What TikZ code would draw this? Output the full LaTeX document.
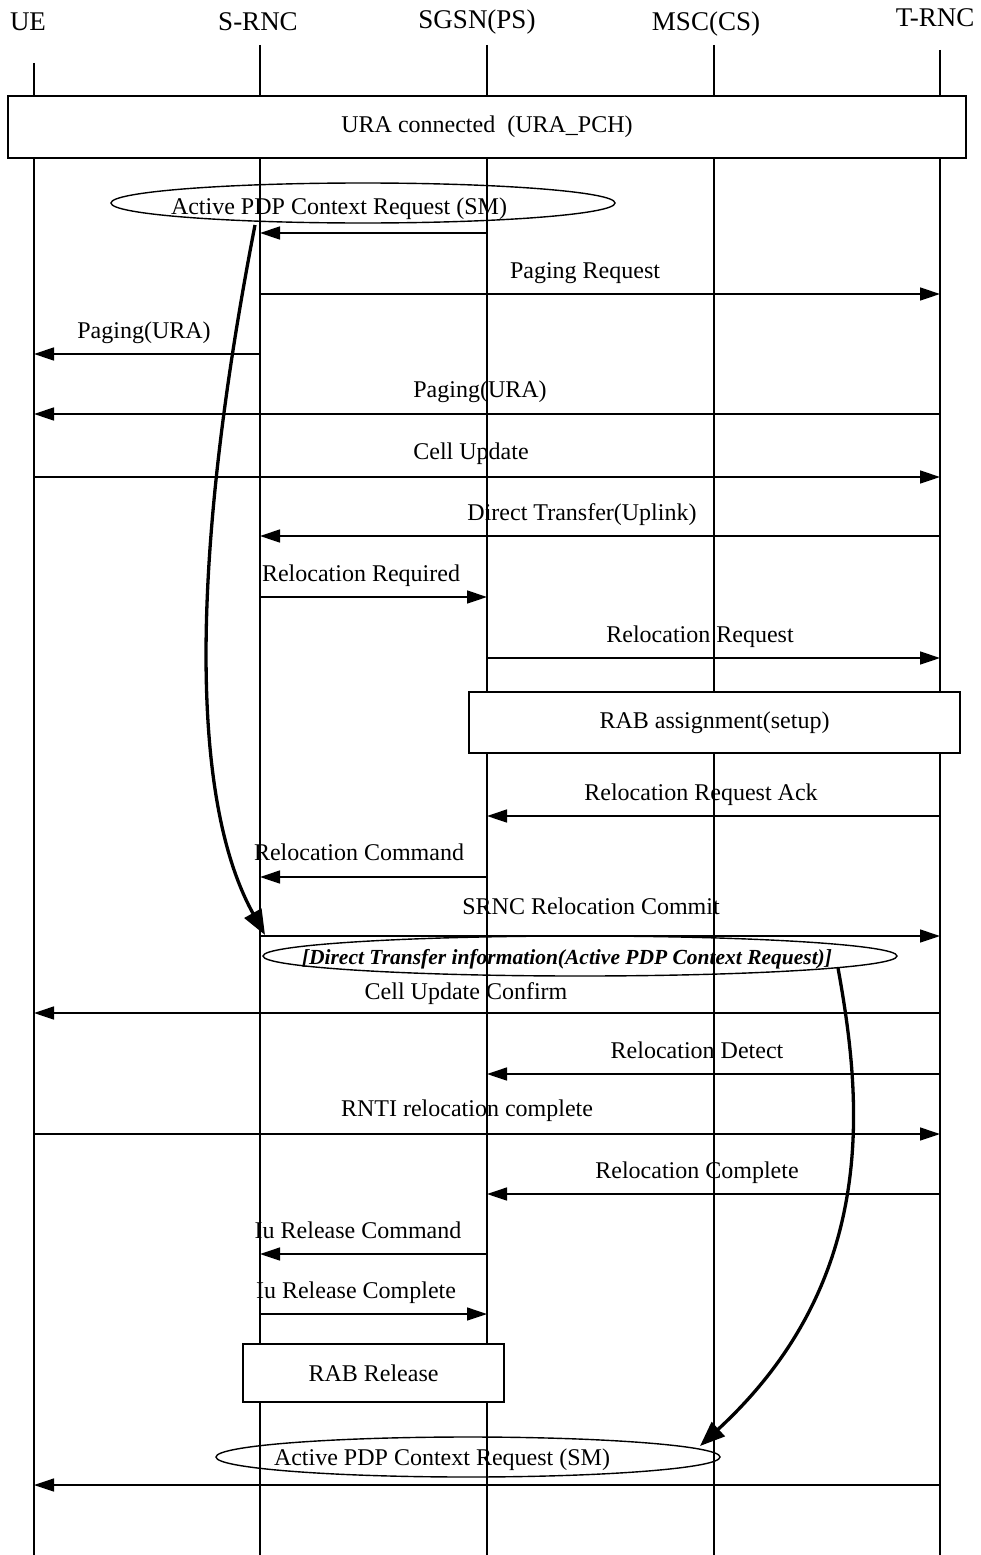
\documentclass[tikz,border=0pt]{standalone}
\usepackage{fontspec}
\setmainfont{Liberation Serif}
\usepackage{tikz}
\usetikzlibrary{arrows.meta,shapes.geometric,positioning}
\tikzset{lifeLine/.style={line width=1.2pt,color=black}}
\tikzset{msgLine/.style={line width=1.4pt,-{Triangle[length=20pt,width=13pt]}}}
\tikzset{msgText/.style={font=\fontsize{24}{28}\selectfont,anchor=base,inner sep=0pt}}
\tikzset{headText/.style={font=\fontsize{27}{32}\selectfont,anchor=base,inner sep=0pt}}
\tikzset{stateBox/.style={draw,line width=1.4pt,fill=white,inner sep=0pt,font=\fontsize{24}{28}\selectfont}}
\tikzset{ctxEllipse/.style={draw,ellipse,line width=1.4pt,inner sep=0pt}}
\tikzset{jumpArrow/.style={line width=3.3pt,-{Triangle[length=25pt,width=19pt]}}}
\newcommand{\xUE}{34}
\newcommand{\xSRNC}{260}
\newcommand{\xSGSN}{487}
\newcommand{\xMSC}{714}
\newcommand{\xTRNC}{940}

\begin{document}
\begin{tikzpicture}[x=1pt,y=-1pt]
		\useasboundingbox (0,0) rectangle (980,1555);
		% entities
		\node[headText] (ue)   at (28,31)  {UE};
		\node[headText] (srnc) at (258,31) {S-RNC};
		\node[headText] (sgsn) at (477,29) {SGSN(PS)};
		\node[headText] (msc)  at (706,31) {MSC(CS)};
		\node[headText] (trnc) at (935,27) {T-RNC};
		% life lines
		\foreach \n/\x/\t in {ue/\xUE/63, srnc/\xSRNC/45, sgsn/\xSGSN/45, msc/\xMSC/45, trnc/\xTRNC/50}{
			\coordinate (\n Top) at (\x,\t);
			\coordinate (\n Bot) at (\x,1555);
			\draw[lifeLine] (\n Top) -- (\n Bot);
		}
		% state boxes
		\node[stateBox, minimum width=958pt, minimum height=62pt] (ura) at (487,127) {URA connected~~(URA\_PCH)};
		\node[stateBox, minimum width=491pt, minimum height=61pt] (rabSetup) at (714.5,722.5) {RAB assignment(setup)};
		\node[stateBox, minimum width=261pt, minimum height=58pt] (rabRel) at (373.5,1373) {RAB Release};
		% context ellipses
		\node[ctxEllipse, minimum width=504pt, minimum height=40pt] (ctxA) at (363,203) {};
		\node[msgText] (ctxAText) at (339,214) {Active PDP Context Request (SM)};
		\node[ctxEllipse, minimum width=634pt, minimum height=40pt] (ctxB) at (580,956) {};
		\node[msgText, font=\fontsize{21.5}{25}\selectfont\bfseries\itshape] (ctxBText) at (567,964) {[Direct Transfer information(Active PDP Context Request)]};
		\node[ctxEllipse, minimum width=504pt, minimum height=40pt] (ctxC) at (468,1457) {};
		\node[msgText] (ctxCText) at (442,1465) {Active PDP Context Request (SM)};
		% messages without label
		\coordinate (s0) at (\xSGSN,233);
		\coordinate (e0) at (\xSRNC,233);
		\draw[msgLine] (s0) -- (e0);
		\coordinate (s18) at (\xTRNC,1485);
		\coordinate (e18) at (\xUE,1485);
		\draw[msgLine] (s18) -- (e18);
		% messages
		\foreach \i/\f/\t/\yy/\lx/\ly/\lbl in {
			2/\xSRNC/\xTRNC/294/585/278/{Paging Request},
			3/\xSRNC/\xUE/354/144/338/{Paging(URA)},
			4/\xTRNC/\xUE/414/480/397/{Paging(URA)},
			5/\xUE/\xTRNC/477/471/459/{Cell Update},
			6/\xTRNC/\xSRNC/536/582/520/{Direct Transfer(Uplink)},
			7/\xSRNC/\xSGSN/597/361/581/{Relocation Required},
			8/\xSGSN/\xTRNC/658/700/642/{Relocation Request},
			9/\xTRNC/\xSGSN/816/701/800/{Relocation Request Ack},
			10/\xSGSN/\xSRNC/877/359/860/{Relocation Command},
			11/\xSRNC/\xTRNC/936/591/914/{SRNC Relocation Commit},
			12/\xTRNC/\xUE/1013/466/999/{Cell Update Confirm},
			13/\xTRNC/\xSGSN/1074/697/1058/{Relocation Detect},
			14/\xUE/\xTRNC/1134/467/1116/{RNTI relocation complete},
			15/\xTRNC/\xSGSN/1194/697/1178/{Relocation Complete},
			16/\xSGSN/\xSRNC/1254/358/1238/{Iu Release Command},
			17/\xSRNC/\xSGSN/1314/356/1298/{Iu Release Complete}}{
			\coordinate (s\i) at (\f,\yy);
			\coordinate (e\i) at (\t,\yy);
			\draw[msgLine] (s\i) -- (e\i);
			\node[msgText] (l\i) at (\lx,\ly) {\lbl};
		}
		% forwarded request
		\coordinate (jumpAStart) at (255,225);
		\coordinate (jumpAEnd) at (265,935);
		\draw[jumpArrow] (jumpAStart) .. controls (190,560) and (190,800) .. (jumpAEnd);
		\coordinate (jumpBStart) at (838,968);
		\coordinate (jumpBEnd) at (700,1446);
		\draw[jumpArrow] (jumpBStart) .. controls (862,1100) and (880,1280) .. (jumpBEnd);
	\end{tikzpicture}
\end{document}
